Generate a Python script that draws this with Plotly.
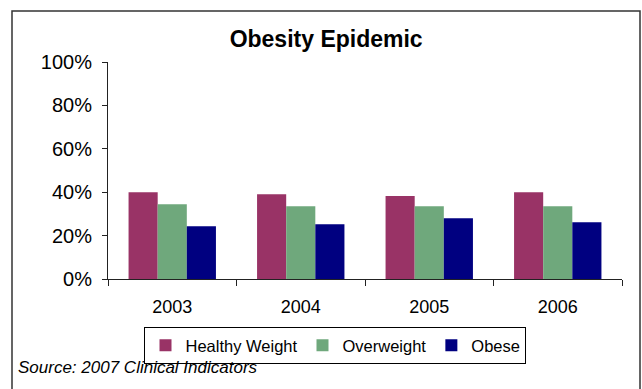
import plotly.graph_objects as go

years = ["2003", "2004", "2005", "2006"]
healthy = [40.0, 39.1, 38.2, 40.0]
overweight = [34.5, 33.5, 33.5, 33.5]
obese = [24.3, 25.2, 28.0, 26.1]
series_names = ["Healthy Weight", "Overweight", "Obese"]
colors = ["#993366", "#6FA87C", "#000080"]

FONT = "Liberation Sans, Arial, sans-serif"

fig = go.Figure()
for name, vals, col in zip(series_names, [healthy, overweight, obese], colors):
    fig.add_trace(go.Bar(x=years, y=vals, name=name, marker=dict(color=col, line=dict(width=0))))

fig.update_layout(
    width=642, height=389,
    margin=dict(l=108, r=20, t=62, b=110),
    paper_bgcolor="white", plot_bgcolor="white",
    barmode="group", bargap=0.32, bargroupgap=0,
    font=dict(family=FONT, color="black"),
    title=dict(text="<b>Obesity Epidemic</b>", x=0.508, xanchor="center",
               y=1 - 39 / 389, yanchor="middle", yref="container",
               font=dict(size=23, family=FONT, color="black")),
    showlegend=True,
    legend=dict(orientation="h", x=0.4426, xanchor="center", y=(279 - 327) / 217, yanchor="top",
                bordercolor="black", borderwidth=1, font=dict(size=16.5, family=FONT),
                traceorder="normal", itemwidth=30, tracegroupgap=0),
    xaxis=dict(showline=True, linecolor="#222222", linewidth=1, ticks="outside",
               tickson="boundaries", ticklen=6, tickcolor="#222222", ticklabelstandoff=11,
               tickfont=dict(size=18, family=FONT), showgrid=False),
    yaxis=dict(range=[0, 100], dtick=20, ticksuffix="%", showline=True, linecolor="#222222",
               linewidth=1, ticks="outside", ticklen=5, tickcolor="#222222", ticklabelstandoff=6,
               tickfont=dict(size=20, family=FONT), showgrid=False, zeroline=False),
    annotations=[dict(text="<i>Source: 2007 Clinical Indicators</i>", xref="paper", yref="paper",
                      x=(16 - 108) / 514, y=(279 - 367) / 217, xanchor="left", yanchor="middle",
                      showarrow=False, font=dict(size=17, family=FONT, color="black"))],
    shapes=[dict(type="rect", xref="paper", yref="paper",
                 x0=(12 - 108) / 514, x1=(640 - 108) / 514,
                 y0=(279 - 395) / 217, y1=(279 - 11) / 217,
                 line=dict(color="#333333", width=1.5))],
)

fig.write_html("out.html")
